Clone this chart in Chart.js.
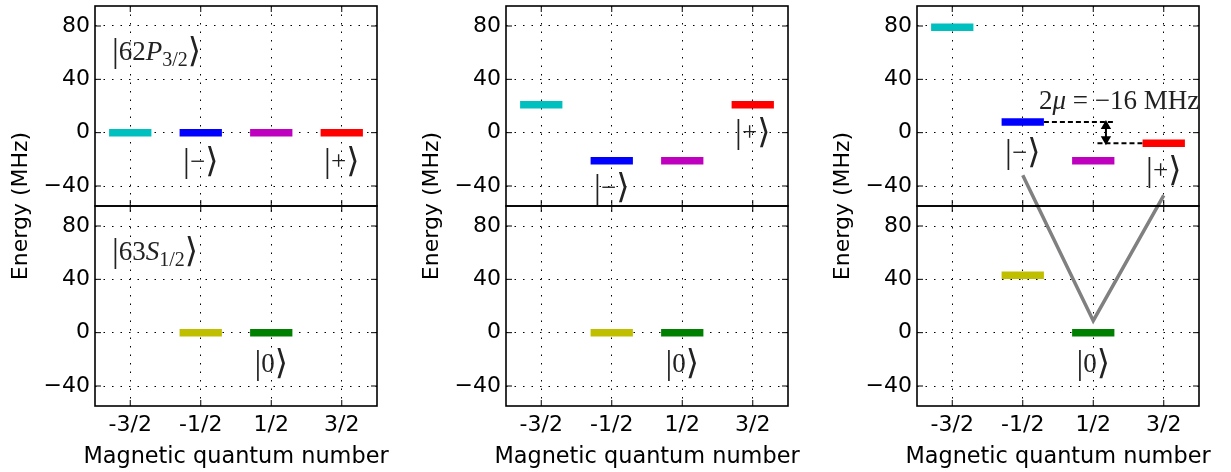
<!DOCTYPE html>
<html>
<head>
<meta charset="utf-8">
<script src="https://cdn.jsdelivr.net/npm/chart.js@4.4.0/dist/chart.umd.min.js"></script>
<style>
  body { margin: 0; background: #fff; }
  .col { position: absolute; top: 0; width: 409px; height: 472px; }
</style>
</head>
<body>
<div class="col" style="left:0"><canvas id="colA"></canvas></div>
<div class="col" style="left:411px"><canvas id="colB"></canvas></div>
<div class="col" style="left:822px"><canvas id="colC"></canvas></div>
<script>
// axes
const mLabels = ["-3/2", "-1/2", "1/2", "3/2"];
const mValues = [-1.5, -0.5, 0.5, 1.5];
const energyTicks = [-40, 0, 40, 80];

// |62P_3/2> levels, one per m
const pColors = ["#00bfbf", "#0000ff", "#bf00bf", "#ff0000"];
const pEnergyA = [0, 0, 0, 0];
const pEnergyB = [21, -21, -21, 21];
const pEnergyC = [79, 8, -21, -8];

// |63S_1/2> levels at m = -1/2, 1/2
const sM = [-0.5, 0.5];
const sColors = ["#bfbf00", "#008000"];
const sEnergyA = [0, 0];
const sEnergyB = [0, 0];
const sEnergyC = [43, 0];

// grey transition path in the last column (crosses both panels)
const pathM = [-0.5, 0.5, 1.5];
const pathE = [-32, 9, -47];
const pathAxis = ["yTop", "yBot", "yTop"];

const halfWidth = 0.3;
const tickFont = { family: "DejaVu Sans", size: 22 };

const ketMinus = [["|", "k"], ["\u2212", "r"], ["\u27E9", "k"]];
const ketPlus = [["|", "k"], ["+", "r"], ["\u27E9", "k"]];
const ketZero = [["|", "k"], ["0", "r"], ["\u27E9", "k"]];
const pState = [["|", "k"], ["62", "r"], ["P", "i"], ["3/2", "s"], ["\u27E9", "k"]];
const sState = [["|", "k"], ["63", "r"], ["S", "i"], ["1/2", "s"], ["\u27E9", "k"]];
const muText = [["2", "r"], ["\u03BC", "i"], [" = ", "r"], ["\u221216 MHz", "r"]];

function levels(ms, es, colors, axis) {
  return ms.map(function (m, i) {
    return {
      data: [{ x: m - halfWidth, y: es[i] }, { x: m + halfWidth, y: es[i] }],
      yAxisID: axis,
      showLine: true,
      borderColor: colors[i],
      borderWidth: 7.5,
      borderCapStyle: "butt",
      pointRadius: 0,
    };
  });
}

function runFont(kind) {
  const serif = '"Liberation Serif", "DejaVu Serif", serif';
  if (kind === "k") return "34px " + serif;
  if (kind === "s") return "20px " + serif;
  if (kind === "i") return "italic 27px " + serif;
  return "27px " + serif;
}

function drawRuns(ctx, runs, x, y, align) {
  let w = 0;
  runs.forEach(function (r) {
    ctx.font = runFont(r[1]);
    w += ctx.measureText(r[0]).width;
  });
  let cx = align === "center" ? x - w / 2 : x;
  ctx.textAlign = "left";
  ctx.textBaseline = "middle";
  runs.forEach(function (r) {
    ctx.font = runFont(r[1]);
    ctx.fillText(r[0], cx, r[1] === "s" ? y + 8 : y);
    cx += ctx.measureText(r[0]).width;
  });
}

const framePlugin = {
  id: "frame",
  afterDatasetsDraw: function (chart) {
    const path = chart.options.plugins.frame.path;
    if (!path) return;
    const ctx = chart.ctx;
    const x = chart.scales.x;
    ctx.save();
    ctx.strokeStyle = "#808080";
    ctx.lineWidth = 3.5;
    ctx.beginPath();
    path.m.forEach(function (m, i) {
      const px = x.getPixelForValue(m);
      const py = chart.scales[path.axis[i]].getPixelForValue(path.e[i]);
      if (i === 0) ctx.moveTo(px, py);
      else ctx.lineTo(px, py);
    });
    ctx.stroke();
    ctx.restore();
  },
  afterDraw: function (chart) {
    const ctx = chart.ctx;
    const area = chart.chartArea;
    const x = chart.scales.x;
    ctx.save();
    ctx.strokeStyle = "#000";
    ["yTop", "yBot"].forEach(function (id) {
      const s = chart.scales[id];
      ctx.lineWidth = 1;
      ctx.beginPath();
      s.ticks.forEach(function (t) {
        const py = s.getPixelForValue(t.value);
        ctx.moveTo(area.left, py);
        ctx.lineTo(area.left + 6, py);
        ctx.moveTo(area.right, py);
        ctx.lineTo(area.right - 6, py);
      });
      x.ticks.forEach(function (t) {
        const px = x.getPixelForValue(t.value);
        ctx.moveTo(px, s.top);
        ctx.lineTo(px, s.top + 6);
        ctx.moveTo(px, s.bottom);
        ctx.lineTo(px, s.bottom - 6);
      });
      ctx.stroke();
      ctx.lineWidth = 1.6;
      ctx.strokeRect(area.left, s.top, area.right - area.left, s.bottom - s.top);
    });

    // axis titles (wider than the plot, so drawn here rather than squeezed by the scale)
    ctx.fillStyle = "#000";
    ctx.font = "22.4px 'DejaVu Sans'";
    ctx.textAlign = "center";
    ctx.textBaseline = "alphabetic";
    ctx.fillText("Magnetic quantum number", (area.left + area.right) / 2, area.bottom + 57);

    ctx.translate(21, (area.top + area.bottom) / 2);
    ctx.rotate(-Math.PI / 2);
    ctx.font = "22px 'DejaVu Sans'";
    ctx.textBaseline = "middle";
    ctx.fillText("Energy (MHz)", 0, 0);
    ctx.setTransform(1, 0, 0, 1, 0, 0);

    ctx.fillStyle = "#222";
    chart.options.plugins.frame.notes.forEach(function (n) {
      const px = x.getPixelForValue(n.m);
      const py = chart.scales[n.axis].getPixelForValue(n.e);
      drawRuns(ctx, n.runs, px, py, n.align);
    });
    ctx.restore();
  },
};

function yScale() {
  return {
    type: "linear",
    position: "left",
    stack: "energy",
    stackWeight: 1,
    min: -55,
    max: 95,
    z: 1,
    afterBuildTicks: function (s) {
      s.ticks = energyTicks.map(function (v) { return { value: v }; });
    },
    afterFit: function (s) {
      s.width = 95;
      s.paddingTop = 0;
      s.paddingBottom = 0;
    },
    ticks: {
      font: tickFont,
      color: "#000",
      padding: 5,
      callback: function (v) { return v < 0 ? "\u2212" + Math.abs(v) : String(v); },
    },
    grid: { color: "#000", lineWidth: 1, drawTicks: false },
    border: { display: false, dash: [1.5, 7] },
  };
}

function makeChart(id, pE, sE, notes, extra, path) {
  const datasets = levels(mValues, pE, pColors, "yTop")
    .concat(levels(sM, sE, sColors, "yBot"))
    .concat(extra || []);
  return new Chart(document.getElementById(id), {
    type: "scatter",
    data: { datasets: datasets },
    plugins: [framePlugin],
    options: {
      responsive: true,
      maintainAspectRatio: false,
      animation: false,
      layout: { padding: { top: 6, right: 32, left: 0, bottom: 0 } },
      plugins: {
        legend: { display: false },
        tooltip: { enabled: false },
        frame: { notes: notes, path: path },
      },
      scales: {
        x: {
          type: "linear",
          min: -2,
          max: 2,
          z: 1,
          afterBuildTicks: function (s) {
            s.ticks = mValues.map(function (v) { return { value: v }; });
          },
          afterFit: function (s) {
            s.height = 66;
            s.paddingLeft = 0;
            s.paddingRight = 0;
          },
          ticks: {
            font: tickFont,
            color: "#000",
            padding: 6,
            maxRotation: 0,
            autoSkip: false,
            callback: function (v, i) { return mLabels[i]; },
          },
          grid: { color: "#000", lineWidth: 1, drawTicks: false },
          border: { display: false, dash: [1.5, 7] },
        },
        // listed bottom first: stacked left axes are laid out in reverse order
        yBot: yScale(),
        yTop: yScale(),
      },
    },
  });
}

makeChart("colA", pEnergyA, sEnergyA, [
  { runs: pState, m: -1.76, e: 60, axis: "yTop", align: "left" },
  { runs: ketMinus, m: -0.5, e: -23, axis: "yTop", align: "center" },
  { runs: ketPlus, m: 1.5, e: -23, axis: "yTop", align: "center" },
  { runs: sState, m: -1.76, e: 60, axis: "yBot", align: "left" },
  { runs: ketZero, m: 0.5, e: -24, axis: "yBot", align: "center" },
]);

makeChart("colB", pEnergyB, sEnergyB, [
  { runs: ketMinus, m: -0.5, e: -42, axis: "yTop", align: "center" },
  { runs: ketPlus, m: 1.5, e: -1, axis: "yTop", align: "center" },
  { runs: ketZero, m: 0.5, e: -24, axis: "yBot", align: "center" },
]);

const guides = [
  {
    data: [{ x: mValues[1] + halfWidth, y: pEnergyC[1] }, { x: 0.82, y: pEnergyC[1] }],
    yAxisID: "yTop", showLine: true, borderColor: "#000", borderWidth: 2,
    borderDash: [5, 3], pointRadius: 0,
  },
  {
    data: [{ x: 0.56, y: pEnergyC[3] }, { x: mValues[3] - halfWidth, y: pEnergyC[3] }],
    yAxisID: "yTop", showLine: true, borderColor: "#000", borderWidth: 2,
    borderDash: [5, 3], pointRadius: 0,
  },
  {
    data: [{ x: 0.68, y: pEnergyC[1] - 3 }, { x: 0.68, y: pEnergyC[3] + 3 }],
    yAxisID: "yTop", showLine: true, borderColor: "#000", borderWidth: 2,
    pointStyle: "triangle", pointRadius: 4, rotation: [0, 180],
    pointBackgroundColor: "#000", pointBorderColor: "#000",
  },
];

makeChart("colC", pEnergyC, sEnergyC, [
  { runs: ketMinus, m: -0.5, e: -16, axis: "yTop", align: "center" },
  { runs: ketPlus, m: 1.5, e: -29.5, axis: "yTop", align: "center" },
  { runs: ketZero, m: 0.5, e: -24, axis: "yBot", align: "center" },
  { runs: muText, m: -0.27, e: 23, axis: "yTop", align: "left" },
], guides, { m: pathM, e: pathE, axis: pathAxis });
</script>
</body>
</html>
